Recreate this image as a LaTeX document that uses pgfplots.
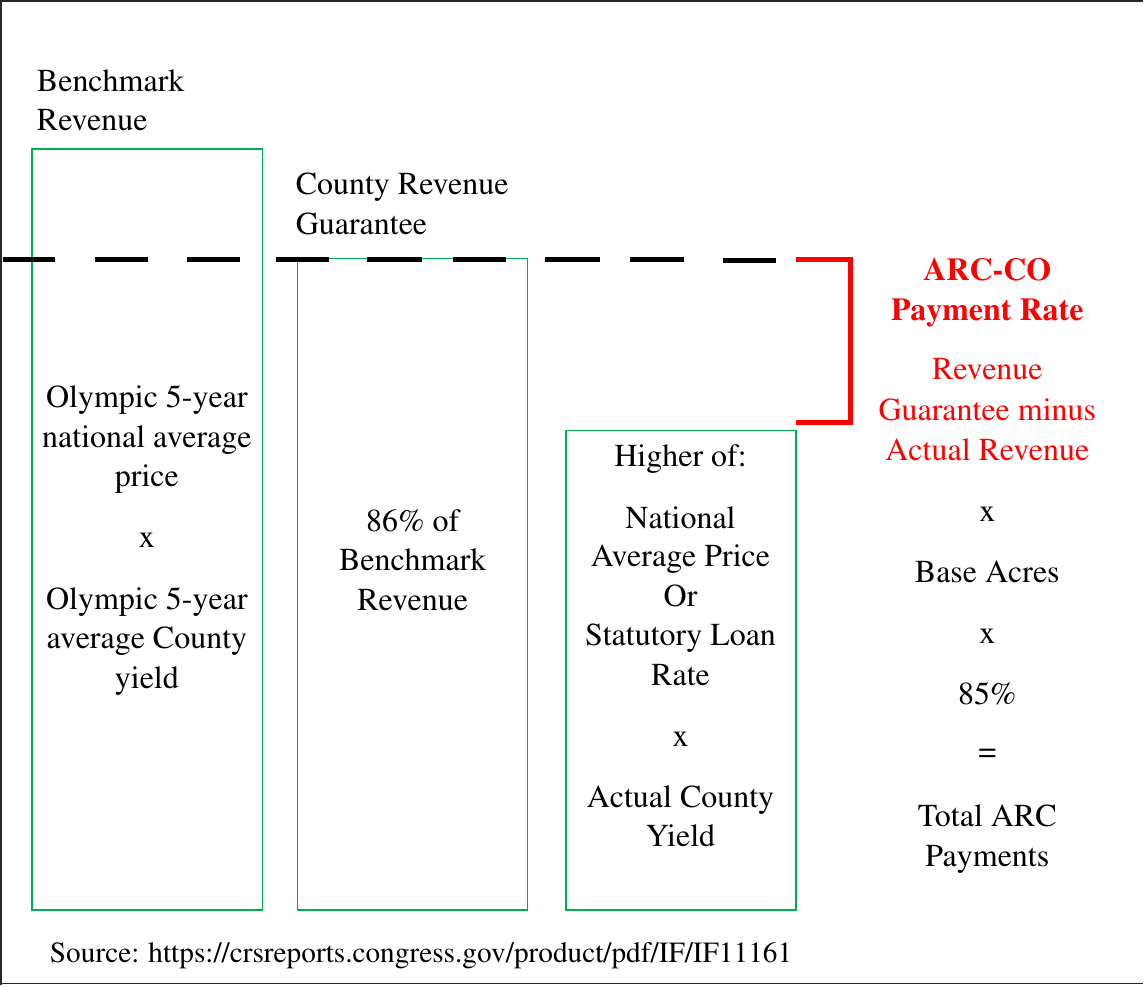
\documentclass[border=0pt]{standalone}
\usepackage[T1]{fontenc}
\usepackage{times}
\usepackage{pgfplots}
\pgfplotsset{compat=1.18}
\definecolor{boxgreen}{RGB}{0,176,80}
\definecolor{arcred}{RGB}{255,0,0}
\definecolor{frame}{RGB}{40,40,40}
\begin{document}
\fontsize{32pt}{39pt}\selectfont
\begin{tikzpicture}[every node/.style={inner sep=0pt, outer sep=0pt}]
\begin{axis}[
  width=1144pt, height=986pt, scale only axis,
  xmin=0, xmax=1144, ymin=0, ymax=986, y dir=reverse,
  axis lines=none, clip=false,
]
% outer frame
\addplot[frame, line width=1.6pt] coordinates {(1.2,986) (1.2,0.8) (1144,0.8)};
\addplot[frame, line width=1.6pt] coordinates {(1.2,984) (1144,984)};
% boxes
\addplot[boxgreen, line width=1.3pt, line cap=rect] coordinates {(32,149) (262.5,149) (262.5,910.5) (32,910.5) (32,149)};
\addplot[boxgreen, line width=1.3pt, line cap=rect] coordinates {(297.5,259) (528,259) (528,910.5) (297.5,910.5) (297.5,259)};
\addplot[boxgreen, line width=1.3pt, line cap=rect] coordinates {(566.5,431) (796.5,431) (796.5,910.5) (566.5,910.5) (566.5,431)};
% dashed guarantee line
\addplot[black, line width=5pt] coordinates {(2.7,260) (55,260)};
\addplot[black, line width=5pt] coordinates {(95,260) (148,260)};
\addplot[black, line width=5pt] coordinates {(187,260) (240,260)};
\addplot[black, line width=5pt] coordinates {(275.7,260) (329,260)};
\addplot[black, line width=5pt] coordinates {(367.3,260) (422.7,260)};
\addplot[black, line width=5pt] coordinates {(453.3,260) (506.7,260)};
\addplot[black, line width=5pt] coordinates {(545,260) (600,260)};
\addplot[black, line width=5pt] coordinates {(630.7,260) (684,260)};
\addplot[black, line width=5pt] coordinates {(723.3,261) (776.7,261)};
% red bracket
\addplot[arcred, line width=5pt, line join=miter] coordinates {(797,260) (851,260) (851,423) (797,423)};

% headings
\node[anchor=base west, inner sep=0pt] at (axis cs:37,92) {Benchmark};
\node[anchor=base west, inner sep=0pt] at (axis cs:37,131) {Revenue};
\node[anchor=base west, inner sep=0pt] at (axis cs:296,195) {County Revenue};
\node[anchor=base west, inner sep=0pt] at (axis cs:296,235) {Guarantee};

% box 1
\node[anchor=base] at (axis cs:147,408) {Olympic 5-year};
\node[anchor=base] at (axis cs:147,448) {national average};
\node[anchor=base] at (axis cs:147,487) {price};
\node[anchor=base] at (axis cs:147,548) {x};
\node[anchor=base] at (axis cs:147,610) {Olympic 5-year};
\node[anchor=base] at (axis cs:147,649) {average County};
\node[anchor=base] at (axis cs:147,689) {yield};

% box 2
\node[anchor=base] at (axis cs:413,532) {86\% of};
\node[anchor=base] at (axis cs:413,571) {Benchmark};
\node[anchor=base] at (axis cs:413,611) {Revenue};

% box 3
\node[anchor=base] at (axis cs:681,467) {Higher of:};
\node[anchor=base] at (axis cs:681,529) {National};
\node[anchor=base] at (axis cs:681,567) {Average Price};
\node[anchor=base] at (axis cs:681,607) {Or};
\node[anchor=base] at (axis cs:681,646) {Statutory Loan};
\node[anchor=base] at (axis cs:681,686) {Rate};
\node[anchor=base] at (axis cs:681,747) {x};
\node[anchor=base] at (axis cs:681,808) {Actual County};
\node[anchor=base] at (axis cs:681,847) {Yield};

% right column
\node[anchor=base, text=arcred, font=\bfseries] at (axis cs:988,281) {ARC-CO};
\node[anchor=base, text=arcred, font=\bfseries] at (axis cs:988,321) {Payment Rate};
\node[anchor=base, text=arcred] at (axis cs:988,380) {Revenue};
\node[anchor=base, text=arcred] at (axis cs:988,421) {Guarantee minus};
\node[anchor=base, text=arcred] at (axis cs:988,461) {Actual Revenue};
\node[anchor=base] at (axis cs:988,522) {x};
\node[anchor=base] at (axis cs:988,583) {Base Acres};
\node[anchor=base] at (axis cs:988,644) {x};
\node[anchor=base] at (axis cs:988,705) {85\%};
\node[anchor=base] at (axis cs:988,762) {=};
\node[anchor=base] at (axis cs:988,827) {Total ARC};
\node[anchor=base] at (axis cs:988,867) {Payments};

% source
\node[anchor=base west, inner sep=0pt, font=\fontsize{29.3pt}{35pt}\selectfont] at (axis cs:50,963) {Source: https://crsreports.congress.gov/product/pdf/IF/IF11161};
\end{axis}
\path (current axis.south west) rectangle (current axis.north east);
\end{tikzpicture}
\end{document}
